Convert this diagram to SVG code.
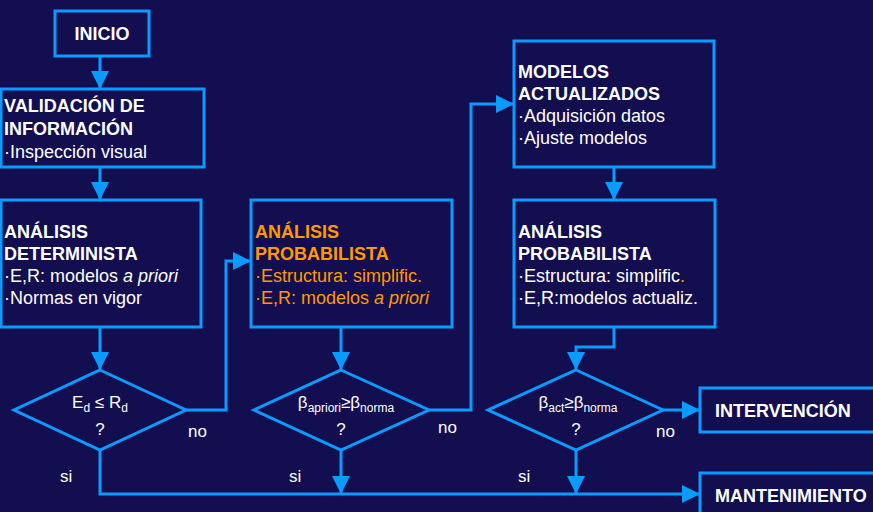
<svg xmlns="http://www.w3.org/2000/svg" width="873" height="512" viewBox="0 0 873 512">
<defs>
<marker id="ah" markerUnits="userSpaceOnUse" markerWidth="18" markerHeight="18" refX="18" refY="9" orient="auto">
<path d="M0,0 L18,9 L0,18 z" fill="#0A9BFF"/>
</marker>
<style>
.box{fill:#130E50;stroke:#0A9BFF;stroke-width:3}
.ln{fill:none;stroke:#0A9BFF;stroke-width:3;marker-end:url(#ah)}
text{font-family:"Liberation Sans",Arial,sans-serif;fill:#FFFFFF}
.b{font-weight:bold;font-size:18px}
.r{font-size:18px}
.o{fill:#FF9900}
.d{font-size:17px}
.s{font-size:12px}
.lb{font-size:17px}
</style>
</defs>
<rect x="0" y="0" width="873" height="512" fill="#130E50"/>

<g id="connectors">
<path class="ln" d="M100,56 V89"/>
<path class="ln" d="M100,167 V200"/>
<path class="ln" d="M100,327 V370"/>
<path class="ln" d="M186,410 H226 V261 H251"/>
<path class="ln" d="M341,327 V370"/>
<path class="ln" d="M429,410 H471 V104 H514"/>
<path class="ln" d="M614,167 V200"/>
<path class="ln" d="M614,327 V347 H576 V370"/>
<path class="ln" d="M663,410 H700"/>
<path class="ln" d="M100,450 V494 H700"/>
<path class="ln" d="M341,450 V494"/>
<path class="ln" d="M576,450 V494"/>
<text class="lb" x="188" y="437">no</text>
<text class="lb" x="60" y="482">si</text>
<text class="lb" x="438" y="433">no</text>
<text class="lb" x="289" y="482">si</text>
<text class="lb" x="656" y="437">no</text>
<text class="lb" x="518" y="482">si</text>
</g>

<g id="inicio">
<rect class="box" x="55" y="11" width="94" height="45"/>
<text class="b" x="102" y="40" text-anchor="middle">INICIO</text>
</g>

<g id="validacion">
<rect class="box" x="1" y="89" width="203" height="78"/>
<text class="b" x="4" y="112">VALIDACIÓN DE</text>
<text class="b" x="4" y="135">INFORMACIÓN</text>
<text class="r" x="4" y="158">·Inspección visual</text>
</g>

<g id="determinista">
<rect class="box" x="1" y="200" width="200" height="127"/>
<text class="b" x="4" y="238">ANÁLISIS</text>
<text class="b" x="4" y="260">DETERMINISTA</text>
<text class="r" x="4" y="282">·E,R: modelos <tspan font-style="italic">a priori</tspan></text>
<text class="r" x="4" y="304">·Normas en vigor</text>
</g>

<g id="decision1">
<polygon class="box" points="100,370 186,410 100,450 14,410"/>
<text class="d" x="100" y="408" text-anchor="middle">E<tspan class="s" dy="4">d</tspan><tspan dy="-4"> ≤ R</tspan><tspan class="s" dy="4">d</tspan></text>
<text class="d" x="100" y="435" text-anchor="middle">?</text>
</g>

<g id="probabilista1">
<rect class="box" x="251" y="200" width="201" height="127"/>
<text class="b o" x="255" y="238">ANÁLISIS</text>
<text class="b o" x="255" y="260">PROBABILISTA</text>
<text class="r o" x="255" y="282">·Estructura: simplific.</text>
<text class="r o" x="255" y="304">·E,R: modelos <tspan font-style="italic">a priori</tspan></text>
</g>

<g id="decision2">
<polygon class="box" points="341,370 429,410 341,450 254,410"/>
<text class="d" x="346" y="408" text-anchor="middle">β<tspan class="s" dy="4">apriori</tspan><tspan dy="-4">≥β</tspan><tspan class="s" dy="4">norma</tspan></text>
<text class="d" x="341" y="435" text-anchor="middle">?</text>
</g>

<g id="modelos">
<rect class="box" x="514" y="41" width="200" height="126"/>
<text class="b" x="518" y="78">MODELOS</text>
<text class="b" x="518" y="100">ACTUALIZADOS</text>
<text class="r" x="518" y="122">·Adquisición datos</text>
<text class="r" x="518" y="144">·Ajuste modelos</text>
</g>

<g id="probabilista2">
<rect class="box" x="514" y="200" width="201" height="127"/>
<text class="b" x="518" y="238">ANÁLISIS</text>
<text class="b" x="518" y="260">PROBABILISTA</text>
<text class="r" x="518" y="282">·Estructura: simplific<tspan class="o">.</tspan></text>
<text class="r" x="518" y="304">·E,R:modelos actualiz.</text>
</g>

<g id="decision3">
<polygon class="box" points="576,370 663,410 576,450 488,410"/>
<text class="d" x="578" y="408" text-anchor="middle">β<tspan class="s" dy="4">act</tspan><tspan dy="-4">≥β</tspan><tspan class="s" dy="4">norma</tspan></text>
<text class="d" x="576" y="435" text-anchor="middle">?</text>
</g>

<g id="intervencion">
<rect class="box" x="700" y="388" width="190" height="44"/>
<text class="b" x="715" y="417">INTERVENCIÓN</text>
</g>

<g id="mantenimiento">
<rect class="box" x="700" y="473" width="190" height="60"/>
<text class="b" x="715" y="502">MANTENIMIENTO</text>
</g>
</svg>
